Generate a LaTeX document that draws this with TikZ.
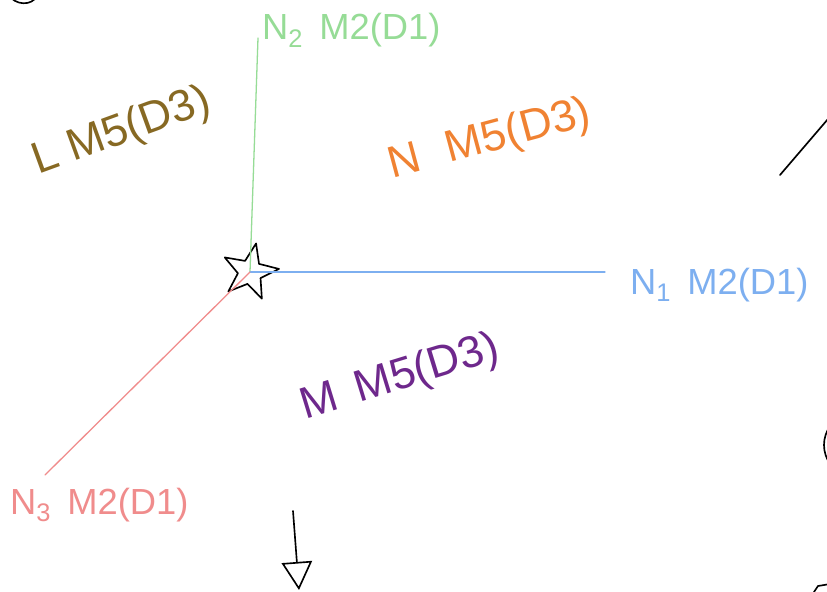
\documentclass[tikz,border=0pt]{standalone}
\usepackage{fontspec}
\setmainfont{Liberation Sans}
\usetikzlibrary{shapes.geometric,arrows.meta}

\definecolor{sgreen}{RGB}{150,220,150}
\definecolor{sblue}{RGB}{125,175,240}
\definecolor{spink}{RGB}{240,140,140}
\definecolor{solive}{RGB}{135,105,35}
\definecolor{sorange}{RGB}{240,130,50}
\definecolor{spurple}{RGB}{110,40,140}

\begin{document}
\begin{tikzpicture}[x=0.03cm, y=-0.03cm,
	every node/.style={inner sep=0pt},
	endlabel/.style={anchor=west, font=\fontsize{31}{36}\selectfont},
	region/.style={font=\fontsize{38}{44}\selectfont},
	ink/.style={line width=1.4pt, line cap=round, line join=round},
	leg/.style={line width=1.1pt, line cap=round}]
	\clip (0,0) rectangle (827,592);
	\fill[white] (0,0) rectangle (827,592);
	% the junction
	\node[star, star points=5, star point ratio=2.4, draw, ink, minimum size=1.75cm, rotate=-12] (hub) at (250,272) {};
	\coordinate (top) at (258,38);
	\coordinate (right) at (605,272);
	\coordinate (low) at (45,475);
	\draw[leg, sgreen] (hub.center) -- (top);
	\draw[leg, sblue] (hub.center) -- (right);
	\draw[leg, spink] (hub.center) -- (low);
	% end labels
	\node[endlabel, sgreen] (n2) at (262,30) {N\textsubscript{2}\, M2(D1)};
	\node[endlabel, sblue] (n1) at (630,285) {N\textsubscript{1}\, M2(D1)};
	\node[endlabel, spink] (n3) at (10,505) {N\textsubscript{3}\, M2(D1)};
	% region labels
	\node[region, solive, rotate=20] (lreg) at (122,132) {L M5(D3)};
	\node[region, sorange, rotate=15] (nreg) at (490,140) {N\,\, M5(D3)};
	\node[region, spurple, rotate=17] (mreg) at (400,378) {M\, M5(D3)};
	% cut-off strokes at the edges
	\draw[ink] (8,-6) .. controls (15,6) and (32,6) .. (37,-4);
	\draw[ink] (780,175) -- (840,105);
	\draw[ink] (830,426) .. controls (822,438) and (822,452) .. (830,464);
	\draw[ink] (812,595) -- (818,586) -- (830,584);
	\coordinate (tail) at (293,511);
	\coordinate (tip) at (299,590);
	\draw[ink, -{Triangle[open, length=24pt, width=26pt, line width=1.4pt]}] (tail) -- (tip);
\end{tikzpicture}
\end{document}
